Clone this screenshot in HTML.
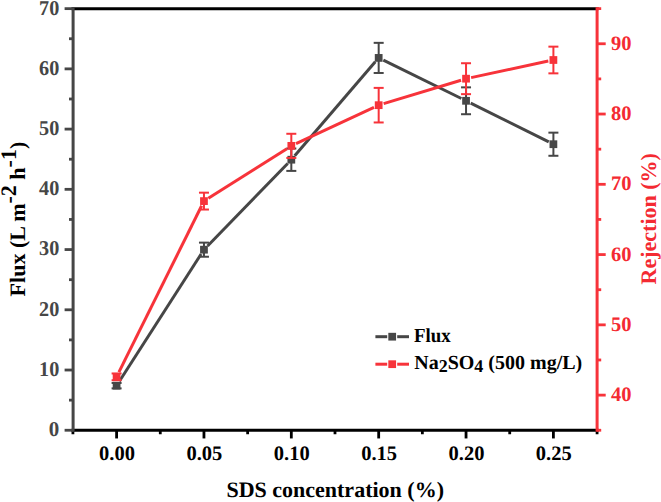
<!DOCTYPE html>
<html><head><meta charset="utf-8"><style>
html,body{margin:0;padding:0;background:#fff;}
svg{display:block;}
text{text-rendering:geometricPrecision;}
</style></head><body>
<svg width="661" height="502" viewBox="0 0 661 502">
<rect width="661" height="502" fill="#fff"/>
<line x1="71.6" y1="8.65" x2="598.6" y2="8.65" stroke="#000000" stroke-width="3"/>
<line x1="71.6" y1="430.25" x2="598.6" y2="430.25" stroke="#000000" stroke-width="3"/>
<line x1="72.92" y1="430.25" x2="72.92" y2="434.25" stroke="#000000" stroke-width="2.8"/>
<line x1="116.60" y1="430.25" x2="116.60" y2="438.45" stroke="#000000" stroke-width="2.8"/>
<text x="117.00" y="459.9" font-family="'Liberation Serif', serif" font-weight="bold" font-size="20.5" fill="#000000" text-anchor="middle">0.00</text>
<line x1="160.28" y1="430.25" x2="160.28" y2="434.25" stroke="#000000" stroke-width="2.8"/>
<line x1="203.96" y1="430.25" x2="203.96" y2="438.45" stroke="#000000" stroke-width="2.8"/>
<text x="204.36" y="459.9" font-family="'Liberation Serif', serif" font-weight="bold" font-size="20.5" fill="#000000" text-anchor="middle">0.05</text>
<line x1="247.64" y1="430.25" x2="247.64" y2="434.25" stroke="#000000" stroke-width="2.8"/>
<line x1="291.32" y1="430.25" x2="291.32" y2="438.45" stroke="#000000" stroke-width="2.8"/>
<text x="291.72" y="459.9" font-family="'Liberation Serif', serif" font-weight="bold" font-size="20.5" fill="#000000" text-anchor="middle">0.10</text>
<line x1="335.00" y1="430.25" x2="335.00" y2="434.25" stroke="#000000" stroke-width="2.8"/>
<line x1="378.68" y1="430.25" x2="378.68" y2="438.45" stroke="#000000" stroke-width="2.8"/>
<text x="379.08" y="459.9" font-family="'Liberation Serif', serif" font-weight="bold" font-size="20.5" fill="#000000" text-anchor="middle">0.15</text>
<line x1="422.36" y1="430.25" x2="422.36" y2="434.25" stroke="#000000" stroke-width="2.8"/>
<line x1="466.04" y1="430.25" x2="466.04" y2="438.45" stroke="#000000" stroke-width="2.8"/>
<text x="466.44" y="459.9" font-family="'Liberation Serif', serif" font-weight="bold" font-size="20.5" fill="#000000" text-anchor="middle">0.20</text>
<line x1="509.72" y1="430.25" x2="509.72" y2="434.25" stroke="#000000" stroke-width="2.8"/>
<line x1="553.40" y1="430.25" x2="553.40" y2="438.45" stroke="#000000" stroke-width="2.8"/>
<text x="553.80" y="459.9" font-family="'Liberation Serif', serif" font-weight="bold" font-size="20.5" fill="#000000" text-anchor="middle">0.25</text>
<line x1="597.08" y1="430.25" x2="597.08" y2="434.25" stroke="#000000" stroke-width="2.8"/>
<line x1="73.1" y1="7.15" x2="73.1" y2="431.75" stroke="#464646" stroke-width="3"/>
<line x1="64.60" y1="430.25" x2="73.1" y2="430.25" stroke="#464646" stroke-width="2.8"/>
<text x="59.3" y="436.15" font-family="'Liberation Serif', serif" font-weight="bold" font-size="21" fill="#464646" text-anchor="end">0</text>
<line x1="69.00" y1="400.13" x2="73.1" y2="400.13" stroke="#464646" stroke-width="2.8"/>
<line x1="64.60" y1="370.02" x2="73.1" y2="370.02" stroke="#464646" stroke-width="2.8"/>
<text x="59.3" y="375.92" font-family="'Liberation Serif', serif" font-weight="bold" font-size="21" fill="#464646" text-anchor="end" textLength="20.2" lengthAdjust="spacingAndGlyphs">10</text>
<line x1="69.00" y1="339.90" x2="73.1" y2="339.90" stroke="#464646" stroke-width="2.8"/>
<line x1="64.60" y1="309.79" x2="73.1" y2="309.79" stroke="#464646" stroke-width="2.8"/>
<text x="59.3" y="315.69" font-family="'Liberation Serif', serif" font-weight="bold" font-size="21" fill="#464646" text-anchor="end" textLength="20.2" lengthAdjust="spacingAndGlyphs">20</text>
<line x1="69.00" y1="279.68" x2="73.1" y2="279.68" stroke="#464646" stroke-width="2.8"/>
<line x1="64.60" y1="249.56" x2="73.1" y2="249.56" stroke="#464646" stroke-width="2.8"/>
<text x="59.3" y="255.46" font-family="'Liberation Serif', serif" font-weight="bold" font-size="21" fill="#464646" text-anchor="end" textLength="20.2" lengthAdjust="spacingAndGlyphs">30</text>
<line x1="69.00" y1="219.45" x2="73.1" y2="219.45" stroke="#464646" stroke-width="2.8"/>
<line x1="64.60" y1="189.33" x2="73.1" y2="189.33" stroke="#464646" stroke-width="2.8"/>
<text x="59.3" y="195.23" font-family="'Liberation Serif', serif" font-weight="bold" font-size="21" fill="#464646" text-anchor="end" textLength="20.2" lengthAdjust="spacingAndGlyphs">40</text>
<line x1="69.00" y1="159.22" x2="73.1" y2="159.22" stroke="#464646" stroke-width="2.8"/>
<line x1="64.60" y1="129.10" x2="73.1" y2="129.10" stroke="#464646" stroke-width="2.8"/>
<text x="59.3" y="135.00" font-family="'Liberation Serif', serif" font-weight="bold" font-size="21" fill="#464646" text-anchor="end" textLength="20.2" lengthAdjust="spacingAndGlyphs">50</text>
<line x1="69.00" y1="98.99" x2="73.1" y2="98.99" stroke="#464646" stroke-width="2.8"/>
<line x1="64.60" y1="68.87" x2="73.1" y2="68.87" stroke="#464646" stroke-width="2.8"/>
<text x="59.3" y="74.77" font-family="'Liberation Serif', serif" font-weight="bold" font-size="21" fill="#464646" text-anchor="end" textLength="20.2" lengthAdjust="spacingAndGlyphs">60</text>
<line x1="69.00" y1="38.75" x2="73.1" y2="38.75" stroke="#464646" stroke-width="2.8"/>
<line x1="64.60" y1="8.64" x2="73.1" y2="8.64" stroke="#464646" stroke-width="2.8"/>
<text x="59.3" y="14.54" font-family="'Liberation Serif', serif" font-weight="bold" font-size="21" fill="#464646" text-anchor="end" textLength="20.2" lengthAdjust="spacingAndGlyphs">70</text>
<line x1="597.1" y1="7.15" x2="597.1" y2="431.75" stroke="#f7333a" stroke-width="3"/>
<line x1="597.1" y1="430.25" x2="601.20" y2="430.25" stroke="#f7333a" stroke-width="2.8"/>
<line x1="597.1" y1="395.12" x2="605.70" y2="395.12" stroke="#f7333a" stroke-width="2.8"/>
<text x="611.0" y="401.12" font-family="'Liberation Serif', serif" font-weight="bold" font-size="20.5" fill="#f42a32">40</text>
<line x1="597.1" y1="359.98" x2="601.20" y2="359.98" stroke="#f7333a" stroke-width="2.8"/>
<line x1="597.1" y1="324.85" x2="605.70" y2="324.85" stroke="#f7333a" stroke-width="2.8"/>
<text x="611.0" y="330.85" font-family="'Liberation Serif', serif" font-weight="bold" font-size="20.5" fill="#f42a32">50</text>
<line x1="597.1" y1="289.71" x2="601.20" y2="289.71" stroke="#f7333a" stroke-width="2.8"/>
<line x1="597.1" y1="254.57" x2="605.70" y2="254.57" stroke="#f7333a" stroke-width="2.8"/>
<text x="611.0" y="260.57" font-family="'Liberation Serif', serif" font-weight="bold" font-size="20.5" fill="#f42a32">60</text>
<line x1="597.1" y1="219.44" x2="601.20" y2="219.44" stroke="#f7333a" stroke-width="2.8"/>
<line x1="597.1" y1="184.31" x2="605.70" y2="184.31" stroke="#f7333a" stroke-width="2.8"/>
<text x="611.0" y="190.31" font-family="'Liberation Serif', serif" font-weight="bold" font-size="20.5" fill="#f42a32">70</text>
<line x1="597.1" y1="149.17" x2="601.20" y2="149.17" stroke="#f7333a" stroke-width="2.8"/>
<line x1="597.1" y1="114.03" x2="605.70" y2="114.03" stroke="#f7333a" stroke-width="2.8"/>
<text x="611.0" y="120.03" font-family="'Liberation Serif', serif" font-weight="bold" font-size="20.5" fill="#f42a32">80</text>
<line x1="597.1" y1="78.90" x2="601.20" y2="78.90" stroke="#f7333a" stroke-width="2.8"/>
<line x1="597.1" y1="43.76" x2="605.70" y2="43.76" stroke="#f7333a" stroke-width="2.8"/>
<text x="611.0" y="49.76" font-family="'Liberation Serif', serif" font-weight="bold" font-size="20.5" fill="#f42a32">90</text>
<line x1="597.1" y1="8.63" x2="601.20" y2="8.63" stroke="#f7333a" stroke-width="2.8"/>
<line x1="119.41" y1="381.30" x2="201.15" y2="254.06" stroke="#464646" stroke-width="3.0"/>
<line x1="207.58" y1="245.95" x2="287.70" y2="163.43" stroke="#464646" stroke-width="3.0"/>
<line x1="294.71" y1="155.75" x2="375.29" y2="61.85" stroke="#464646" stroke-width="3.0"/>
<line x1="383.35" y1="60.20" x2="461.37" y2="98.50" stroke="#464646" stroke-width="3.0"/>
<line x1="470.70" y1="103.11" x2="548.74" y2="141.90" stroke="#464646" stroke-width="3.0"/>
<line x1="116.60" y1="382.97" x2="116.60" y2="388.39" stroke="#464646" stroke-width="2.0"/>
<line x1="111.60" y1="382.97" x2="121.60" y2="382.97" stroke="#464646" stroke-width="2.0"/>
<line x1="111.60" y1="388.39" x2="121.60" y2="388.39" stroke="#464646" stroke-width="2.0"/>
<line x1="203.96" y1="242.63" x2="203.96" y2="256.73" stroke="#464646" stroke-width="2.0"/>
<line x1="198.96" y1="242.63" x2="208.96" y2="242.63" stroke="#464646" stroke-width="2.0"/>
<line x1="198.96" y1="256.73" x2="208.96" y2="256.73" stroke="#464646" stroke-width="2.0"/>
<line x1="291.32" y1="148.49" x2="291.32" y2="170.90" stroke="#464646" stroke-width="2.0"/>
<line x1="286.32" y1="148.49" x2="296.32" y2="148.49" stroke="#464646" stroke-width="2.0"/>
<line x1="286.32" y1="170.90" x2="296.32" y2="170.90" stroke="#464646" stroke-width="2.0"/>
<line x1="378.68" y1="42.85" x2="378.68" y2="72.97" stroke="#464646" stroke-width="2.0"/>
<line x1="373.68" y1="42.85" x2="383.68" y2="42.85" stroke="#464646" stroke-width="2.0"/>
<line x1="373.68" y1="72.97" x2="383.68" y2="72.97" stroke="#464646" stroke-width="2.0"/>
<line x1="466.04" y1="87.36" x2="466.04" y2="114.22" stroke="#464646" stroke-width="2.0"/>
<line x1="461.04" y1="87.36" x2="471.04" y2="87.36" stroke="#464646" stroke-width="2.0"/>
<line x1="461.04" y1="114.22" x2="471.04" y2="114.22" stroke="#464646" stroke-width="2.0"/>
<line x1="553.40" y1="132.65" x2="553.40" y2="155.78" stroke="#464646" stroke-width="2.0"/>
<line x1="548.40" y1="132.65" x2="558.40" y2="132.65" stroke="#464646" stroke-width="2.0"/>
<line x1="548.40" y1="155.78" x2="558.40" y2="155.78" stroke="#464646" stroke-width="2.0"/>
<rect x="112.72" y="381.80" width="7.75" height="7.75" fill="#474747"/>
<rect x="200.09" y="245.81" width="7.75" height="7.75" fill="#474747"/>
<rect x="287.45" y="155.82" width="7.75" height="7.75" fill="#474747"/>
<rect x="374.80" y="54.03" width="7.75" height="7.75" fill="#474747"/>
<rect x="462.17" y="96.92" width="7.75" height="7.75" fill="#474747"/>
<rect x="549.52" y="140.34" width="7.75" height="7.75" fill="#474747"/>
<line x1="118.91" y1="372.19" x2="201.65" y2="205.76" stroke="#f7333a" stroke-width="3.0"/>
<line x1="208.36" y1="198.32" x2="286.92" y2="148.65" stroke="#f7333a" stroke-width="3.0"/>
<line x1="296.03" y1="143.67" x2="373.97" y2="107.38" stroke="#f7333a" stroke-width="3.0"/>
<line x1="383.66" y1="103.67" x2="461.06" y2="80.20" stroke="#f7333a" stroke-width="3.0"/>
<line x1="471.12" y1="77.60" x2="548.32" y2="61.09" stroke="#f7333a" stroke-width="3.0"/>
<line x1="116.60" y1="373.47" x2="116.60" y2="380.22" stroke="#f7333a" stroke-width="2.0"/>
<line x1="111.60" y1="373.47" x2="121.60" y2="373.47" stroke="#f7333a" stroke-width="2.0"/>
<line x1="111.60" y1="380.22" x2="121.60" y2="380.22" stroke="#f7333a" stroke-width="2.0"/>
<line x1="203.96" y1="192.67" x2="203.96" y2="209.53" stroke="#f7333a" stroke-width="2.0"/>
<line x1="198.96" y1="192.67" x2="208.96" y2="192.67" stroke="#f7333a" stroke-width="2.0"/>
<line x1="198.96" y1="209.53" x2="208.96" y2="209.53" stroke="#f7333a" stroke-width="2.0"/>
<line x1="291.32" y1="133.78" x2="291.32" y2="157.95" stroke="#f7333a" stroke-width="2.0"/>
<line x1="286.32" y1="133.78" x2="296.32" y2="133.78" stroke="#f7333a" stroke-width="2.0"/>
<line x1="286.32" y1="157.95" x2="296.32" y2="157.95" stroke="#f7333a" stroke-width="2.0"/>
<line x1="378.68" y1="87.89" x2="378.68" y2="122.47" stroke="#f7333a" stroke-width="2.0"/>
<line x1="373.68" y1="87.89" x2="383.68" y2="87.89" stroke="#f7333a" stroke-width="2.0"/>
<line x1="373.68" y1="122.47" x2="383.68" y2="122.47" stroke="#f7333a" stroke-width="2.0"/>
<line x1="466.04" y1="63.23" x2="466.04" y2="94.15" stroke="#f7333a" stroke-width="2.0"/>
<line x1="461.04" y1="63.23" x2="471.04" y2="63.23" stroke="#f7333a" stroke-width="2.0"/>
<line x1="461.04" y1="94.15" x2="471.04" y2="94.15" stroke="#f7333a" stroke-width="2.0"/>
<line x1="553.40" y1="46.65" x2="553.40" y2="73.35" stroke="#f7333a" stroke-width="2.0"/>
<line x1="548.40" y1="46.65" x2="558.40" y2="46.65" stroke="#f7333a" stroke-width="2.0"/>
<line x1="548.40" y1="73.35" x2="558.40" y2="73.35" stroke="#f7333a" stroke-width="2.0"/>
<rect x="112.72" y="372.97" width="7.75" height="7.75" fill="#f7333a"/>
<rect x="200.09" y="197.22" width="7.75" height="7.75" fill="#f7333a"/>
<rect x="287.45" y="141.99" width="7.75" height="7.75" fill="#f7333a"/>
<rect x="374.80" y="101.31" width="7.75" height="7.75" fill="#f7333a"/>
<rect x="462.17" y="74.81" width="7.75" height="7.75" fill="#f7333a"/>
<rect x="549.52" y="56.12" width="7.75" height="7.75" fill="#f7333a"/>
<text x="335.2" y="496.5" font-family="'Liberation Serif', serif" font-weight="bold" font-size="22" fill="#000000" text-anchor="middle">SDS concentration (%)</text>
<text transform="translate(25,296.4) rotate(-90)" font-family="'Liberation Serif', serif" font-weight="bold" font-size="22" fill="#000000">Flux (L m<tspan dy="-9">-2</tspan><tspan dy="9"> h</tspan><tspan dy="-9">-1</tspan><tspan dy="9">)</tspan></text>
<text transform="translate(656.2,284.4) rotate(-90)" font-family="'Liberation Serif', serif" font-weight="bold" font-size="22" fill="#f42a32">Rejection (%)</text>
<line x1="375.4" y1="336.7" x2="387.2" y2="336.7" stroke="#464646" stroke-width="3"/>
<line x1="397.2" y1="336.7" x2="409" y2="336.7" stroke="#464646" stroke-width="3"/>
<rect x="388.32" y="332.82" width="7.75" height="7.75" fill="#474747"/>
<line x1="375.4" y1="364.2" x2="387.2" y2="364.2" stroke="#f7333a" stroke-width="3"/>
<line x1="397.2" y1="364.2" x2="409" y2="364.2" stroke="#f7333a" stroke-width="3"/>
<rect x="388.32" y="360.32" width="7.75" height="7.75" fill="#f7333a"/>
<text x="413.9" y="341.6" font-family="'Liberation Serif', serif" font-weight="bold" font-size="20" fill="#000000" textLength="36.7" lengthAdjust="spacingAndGlyphs">Flux</text>
<text x="414.2" y="369" font-family="'Liberation Serif', serif" font-weight="bold" font-size="20" fill="#000000">Na<tspan font-size="18" dy="3.4">2</tspan><tspan dy="-3.4">SO</tspan><tspan font-size="18" dy="3.4">4</tspan><tspan dy="-3.4"> (500 mg/L)</tspan></text>
</svg>
</body></html>
